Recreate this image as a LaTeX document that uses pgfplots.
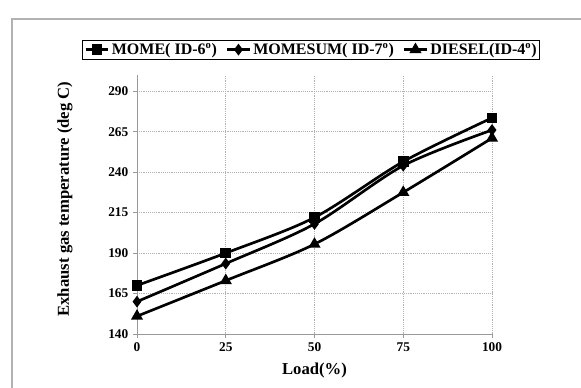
\documentclass[border=0pt]{standalone}
\usepackage{pgfplots}
\pgfplotsset{compat=1.18}
\usepackage{fontspec}
\setmainfont{Liberation Serif}
\begin{document}
\begin{tikzpicture}
\useasboundingbox (0,0) rectangle (435.75pt,-291pt);
\draw[gray!60, line width=0.8pt] (9pt,-291pt) -- (9pt,-14.25pt) -- (435.75pt,-14.25pt);
\begin{axis}[
  at={(102.75pt,-250.5pt)}, anchor=south west,
  scale only axis, width=266.25pt, height=194.25pt,
  xmin=0, xmax=100, ymin=140, ymax=300,
  xtick={0,25,50,75,100}, ytick={140,165,190,215,240,265,290},
  axis x line*=bottom, axis y line*=left,
  axis line style={-, gray!80, line width=0.6pt},
  tick align=outside, major tick length=3pt,
  tick style={gray!80, line width=0.6pt},
  grid=major, major grid style={densely dotted, gray!60, line width=0.5pt},
  /pgf/number format/assume math mode=true,
  ticklabel style={font=\fontsize{10}{12}\selectfont\bfseries},
  xlabel={Load(\%)},
  ylabel={Exhaust gas temperature (deg C)},
  label style={font=\fontsize{12.5}{14}\selectfont\bfseries},
  xlabel style={at={(axis description cs:0.5,-0.139)}, anchor=center},
  ylabel style={at={(axis description cs:-0.203,0.521)}, anchor=center, rotate=0},
  legend columns=3,
  legend image post style={line width=2pt},
  legend style={at={(0.490,1.098)}, anchor=center, draw=black, line width=0.6pt,
    font=\fontsize{12}{14}\selectfont\bfseries, inner sep=1.5pt,
    nodes={inner sep=0.6pt},
    /tikz/every odd column/.append style={column sep=1pt},
    /tikz/every even column/.append style={column sep=6pt}},
  legend image code/.code={
    \draw[mark repeat=2,mark phase=2] plot coordinates {(0cm,0cm) (0.3cm,0cm) (0.6cm,0cm)};},
  every axis plot/.append style={black, line width=2pt, smooth, tension=0.5},
]
\addplot[mark=square*, mark size=3pt, mark options={solid}] coordinates {(0,170) (25,190) (50,212) (75,246.5) (100,273.5)};
\addlegendentry{MOME( ID-6\textsuperscript{o})}
\addplot[mark=diamond*, mark size=2.8pt] coordinates {(0,160) (25,183.5) (50,208) (75,244) (100,266)};
\addlegendentry{MOMESUM( ID-7\textsuperscript{o})}
\addplot[mark=triangle*, mark size=3.3pt] coordinates {(0,151) (25,173) (50,195.5) (75,227.5) (100,261)};
\addlegendentry{DIESEL(ID-4\textsuperscript{o})}
\end{axis}
\end{tikzpicture}
\end{document}
